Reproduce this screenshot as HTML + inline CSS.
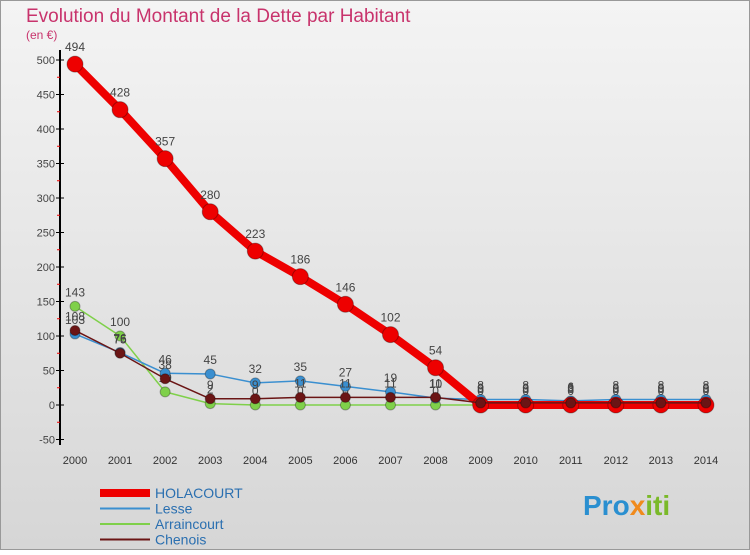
<!DOCTYPE html>
<html><head><meta charset="utf-8"><style>
body{margin:0;width:750px;height:550px;overflow:hidden;font-family:"Liberation Sans",sans-serif}
</style></head><body>
<svg width="750" height="550" xmlns="http://www.w3.org/2000/svg">
<defs><linearGradient id="bg" x1="0" y1="0" x2="0" y2="1"><stop offset="0" stop-color="#f4f4f4"/><stop offset="1" stop-color="#d6d6d6"/></linearGradient></defs>
<rect x="0.5" y="0.5" width="749" height="549" fill="url(#bg)" stroke="#999"/>
<text x="26" y="22" font-size="19" fill="#c8336c">Evolution du Montant de la Dette par Habitant</text>
<text x="26" y="39" font-size="12" fill="#c8336c">(en €)</text>
<g id="axes"></g><g id="series"></g><g id="legend"></g>
<text x="583" y="515" font-size="28" font-weight="bold" fill="#2a8fd0">Pro<tspan fill="#f08a1c">x</tspan><tspan fill="#7ab929">iti</tspan></text>
</svg>
<script>
const years=[2000,2001,2002,2003,2004,2005,2006,2007,2008,2009,2010,2011,2012,2013,2014];
const yTicks=[-50,0,50,100,150,200,250,300,350,400,450,500];
const holacourt=[494,428,357,280,223,186,146,102,54,0,0,0,0,0,0];
const lesse=[103,76,46,45,32,35,27,19,10,8,8,6,8,8,8];
const arraincourt=[143,100,19,2,0,0,0,0,0,0,0,0,0,0,0];
const chenois=[108,75,38,9,9,11,11,11,11,3,3,3,3,3,3];
const NS="http://www.w3.org/2000/svg";
const xs=i=>75+i*45.07;
const ys=v=>405-v*0.69;
function mk(t,a,p){const e=document.createElementNS(NS,t);for(const k in a)e.setAttribute(k,a[k]);p.appendChild(e);return e;}
const ax=document.getElementById('axes');
let l=mk('line',{x1:60,y1:50,x2:60,y2:445,stroke:'#000','stroke-width':2},ax);


yTicks.forEach(v=>{
 const t=mk('text',{x:55,y:ys(v)+4,'font-size':11,fill:'#444','text-anchor':'end'},ax);t.textContent=v;
 
 
 mk('line',{x1:56,y1:ys(v),x2:64,y2:ys(v),stroke:'#000'},ax);
 if(v<500) mk('line',{x1:57,y1:ys(v+25),x2:60,y2:ys(v+25),stroke:'#e00'},ax);
});
years.forEach((y,i)=>{
 const t=mk('text',{x:xs(i),y:464,'font-size':11,fill:'#333','text-anchor':'middle'},ax);t.textContent=y;
 
 
});
const sg=document.getElementById('series');
function series(d,col,w,r,name,labels){
 const g=mk('g',{},sg);
 
 
 mk('polyline',{points:d.map((v,i)=>xs(i)+','+ys(v)).join(' '),fill:'none',stroke:col,'stroke-width':w,'stroke-linejoin':'round'},g);
 d.forEach((v,i)=>{
  const c=mk('circle',{cx:xs(i),cy:ys(v),r:r,fill:col,stroke:'rgba(0,0,0,0.3)'},g);
  
  
  if(labels){const t=mk('text',{x:xs(i),y:ys(v)-r-5,'font-size':12,fill:'#444','text-anchor':'middle'},g);t.textContent=v;}
 });
}
series(arraincourt,'#7fd04a',1.5,5,'arraincourt',true);
series(lesse,'#3a8fd0',1.5,5,'lesse',true);
series(holacourt,'#ee0000',8,8,'holacourt',true);
series(chenois,'#6b1515',1.5,5,'chenois',true);
const lg=document.getElementById('legend');
[['HOLACOURT','#ee0000',8],['Lesse','#3a8fd0',2],['Arraincourt','#7fd04a',2],['Chenois','#6b1515',2]].forEach((e,i)=>{
 const y=493+i*15.5;
 mk('line',{x1:100,y1:y,x2:150,y2:y,stroke:e[1],'stroke-width':e[2]},lg);
 const t=mk('text',{x:155,y:y+5,'font-size':14,fill:'#2a6fb0'},lg);t.textContent=e[0];
 
 
});
</script>
</body></html>
